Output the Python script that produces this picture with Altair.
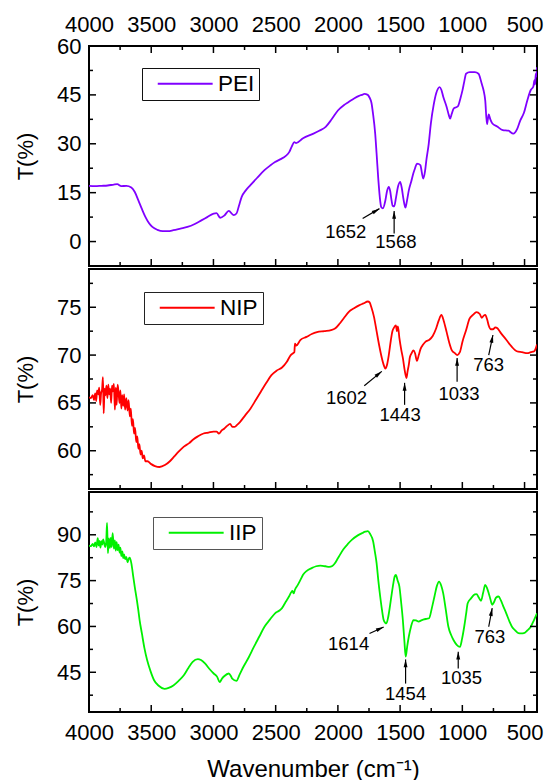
import math
import altair as alt
import pandas as pd

FONT = "Liberation Sans"
W, H = 448, 220
X_DOMAIN = [400, 4000]

# ---------------- data ----------------
PEI_WN = [4000, 3950, 3900, 3850, 3800, 3773, 3740, 3700, 3660, 3632, 3604, 3575, 3547, 3520, 3491, 3450,
          3407, 3365, 3322, 3265, 3209, 3150, 3097, 3050, 2998, 2975, 2946, 2912, 2877, 2838, 2815, 2795,
          2773, 2740, 2703, 2650, 2590, 2545, 2505, 2460, 2421, 2390, 2370, 2350, 2336, 2280, 2196, 2150,
          2098, 2050, 2000, 1950, 1914, 1870, 1830, 1800, 1788, 1760, 1746, 1730, 1718, 1700, 1689, 1675,
          1660, 1652, 1638, 1619, 1605, 1591, 1580, 1571, 1560, 1547, 1533, 1519, 1500, 1487, 1475, 1458,
          1445, 1430, 1410, 1393, 1380, 1365, 1350, 1337, 1314, 1300, 1289, 1270, 1253, 1230, 1210, 1182,
          1168, 1154, 1126, 1110, 1098, 1085, 1070, 1050, 1034, 1015, 999, 985, 970, 940, 900, 870, 844,
          830, 816, 802, 795, 788, 775, 760, 720, 675, 630, 590, 560, 534, 505, 478, 450, 430, 420, 415,
          410, 405, 400]
PEI_T = [17.1, 17.0, 17.1, 17.2, 17.5, 17.6, 17.0, 17.1, 16.6, 15.2, 12.7, 10.0, 7.6, 5.8, 4.5, 3.6,
         3.2, 3.2, 3.5, 4.0, 4.5, 5.4, 6.5, 7.5, 8.6, 8.7, 7.3, 8.0, 9.4, 8.1, 8.6, 11.0,
         13.7, 15.7, 17.3, 19.5, 21.9, 23.3, 24.4, 25.3, 26.2, 27.5, 29.2, 30.5, 30.2, 31.7, 33.1, 34.0,
         35.2, 37.5, 40.2, 41.9, 42.8, 43.9, 44.7, 45.1, 45.3, 45.0, 44.2, 42.5, 39.3, 33.0, 27.0, 19.0,
         12.5, 10.6, 10.2, 12.5, 15.5, 16.8, 15.5, 13.2, 11.0, 10.8, 13.5, 16.5, 18.3, 16.5, 13.5, 10.4,
         12.5, 15.7, 18.5, 21.0, 22.5, 23.9, 23.8, 23.4, 19.3, 21.5, 25.0, 30.0, 36.2, 42.0, 45.5, 47.4,
         46.5, 44.5, 41.3, 39.0, 37.7, 39.2, 40.8, 41.2, 41.6, 44.0, 46.4, 49.0, 51.5, 52.0, 52.0, 51.5, 48.4,
         46.5, 43.3, 36.0, 37.5, 39.0, 37.5, 36.3, 35.3, 34.2, 34.0, 33.1, 34.5, 37.2, 39.5, 43.3, 46.5, 47.5, 49.5, 48.2,
         51.5, 50.5, 53.5]

NIP_WN = [4000, 3985, 3970, 3960, 3950, 3942, 3935, 3925, 3918, 3910, 3903, 3895, 3888, 3882, 3875, 3868,
          3860, 3852, 3845, 3838, 3830, 3822, 3815, 3808, 3800, 3792, 3785, 3778, 3770, 3762, 3755, 3748,
          3740, 3733, 3725, 3718, 3710, 3700, 3690, 3682, 3672, 3664, 3655, 3647, 3638, 3630, 3620, 3612,
          3603, 3595, 3586, 3577, 3568, 3558, 3547, 3530, 3500, 3470, 3433, 3390, 3350, 3315, 3280, 3240, 3195,
          3160, 3125, 3080, 3040, 3000, 2975, 2956, 2935, 2914, 2890, 2866, 2848, 2829, 2810, 2787, 2745,
          2703, 2660, 2618, 2575, 2534, 2490, 2449, 2410, 2379, 2360, 2350, 2345, 2335, 2300, 2252, 2210,
          2168, 2110, 2055, 2020, 1985, 1950, 1914, 1870, 1830, 1795, 1759, 1745, 1731, 1710, 1689, 1668,
          1647, 1630, 1619, 1605, 1591, 1575, 1562, 1548, 1534, 1525, 1518, 1506, 1490, 1478, 1463, 1449,
          1440, 1430, 1421, 1407, 1393, 1380, 1365, 1350, 1337, 1315, 1295, 1265, 1238, 1210, 1190, 1168,
          1150, 1126, 1105, 1084, 1060, 1041, 1020, 999, 970, 942, 915, 886, 860, 844, 830, 816, 800, 788,
          770, 754, 735, 718, 690, 647, 605, 563, 520, 478, 450, 422, 410, 400]
NIP_T = [65.6, 65.5, 65.8, 65.3, 66.0, 65.2, 66.3, 65.9, 66.6, 64.8, 66.0, 66.4, 67.7, 63.9, 66.5, 65.8,
         66.8, 65.5, 66.9, 65.9, 66.5, 65.0, 66.8, 66.2, 67.0, 64.3, 66.6, 64.8, 66.9, 66.0, 65.0, 66.3,
         64.4, 65.8, 64.7, 65.9, 64.3, 65.5, 64.2, 65.3, 63.6, 64.4, 62.6, 63.3, 61.8, 62.4, 60.9, 61.5,
         60.2, 60.7, 59.6, 60.0, 59.2, 59.5, 58.9, 58.9, 58.6, 58.4, 58.3, 58.5, 58.9, 59.4, 59.9, 60.4, 60.8,
         61.2, 61.5, 61.8, 61.9, 62.0, 62.0, 61.8, 62.1, 62.3, 62.6, 62.8, 62.5, 62.5, 62.7, 63.0, 63.7,
         64.4, 65.3, 66.2, 67.1, 67.9, 68.4, 68.7, 69.3, 70.0, 70.2, 70.3, 71.2, 71.0, 71.6, 71.9, 72.2,
         72.4, 72.5, 72.6, 72.8, 73.3, 73.9, 74.5, 74.9, 75.2, 75.4, 75.6, 75.5, 75.0, 74.0, 72.5, 71.0,
         69.7, 68.9, 68.6, 69.0, 70.0, 71.5, 72.5, 72.9, 73.1, 72.5, 73.0, 71.8, 70.5, 69.7, 68.4, 67.6,
         68.3, 69.0, 69.8, 70.2, 70.5, 70.2, 69.4, 70.0, 70.6, 71.1, 71.4, 71.6, 72.0, 72.8, 73.6, 74.2,
         73.6, 72.4, 71.3, 70.5, 70.2, 70.0, 70.3, 71.4, 72.6, 73.8, 74.2, 74.5, 74.3, 73.9, 74.1, 74.2, 73.7, 73.1,
         72.7, 72.7, 72.9, 72.8, 72.3, 71.6, 70.9, 70.4, 70.3, 70.2, 70.3, 70.4, 70.7, 71.1]

IIP_WN = [4000, 3985, 3970, 3960, 3950, 3940, 3930, 3922, 3915, 3908, 3900, 3893, 3886, 3870, 3862, 3855,
          3848, 3840, 3832, 3825, 3818, 3810, 3800, 3792, 3785, 3778, 3770, 3762, 3755, 3748, 3740, 3732,
          3725, 3718, 3710, 3700, 3690, 3680, 3673, 3660, 3645, 3633, 3615, 3604, 3593, 3575, 3555, 3533,
          3505, 3477, 3440, 3393, 3360, 3322, 3280, 3238, 3200, 3167, 3125, 3100, 3068, 3030, 2998, 2970,
          2950, 2930, 2914, 2877, 2860, 2849, 2815, 2790, 2759, 2715, 2675, 2630, 2590, 2545, 2505, 2470,
          2449, 2420, 2393, 2375, 2365, 2355, 2345, 2322, 2300, 2280, 2250, 2210, 2175, 2140, 2100, 2069,
          2045, 2027, 2000, 1957, 1920, 1886, 1840, 1802, 1780, 1759, 1740, 1717, 1703, 1689, 1675, 1660,
          1646, 1632, 1620, 1610, 1596, 1582, 1568, 1554, 1544, 1534, 1520, 1506, 1492, 1478, 1466, 1455,
          1443, 1430, 1412, 1393, 1372, 1351, 1330, 1309, 1288, 1267, 1245, 1224, 1205, 1187, 1170, 1154,
          1133, 1112, 1090, 1070, 1045, 1019, 1002, 985, 970, 957, 930, 900, 886, 868, 850, 833, 816, 800,
          788, 775, 760, 745, 730, 709, 690, 670, 647, 620, 600, 577, 550, 525, 506, 480, 450, 425, 400]
IIP_T = [86.5, 86.3, 87.0, 86.2, 87.5, 86.0, 88.9, 86.5, 88.0, 85.8, 87.9, 86.8, 88.5, 86.0, 87.5, 93.9,
         84.0, 88.8, 85.7, 89.0, 86.0, 90.5, 85.5, 88.2, 84.8, 87.6, 85.0, 86.8, 84.2, 85.8, 83.0, 84.6,
         82.4, 83.6, 82.0, 82.8, 81.0, 82.2, 82.5, 80.7, 76.5, 73.1, 68.5, 65.4, 62.0, 57.7, 53.0, 49.0,
         45.3, 42.4, 40.6, 39.6, 39.9, 40.7, 42.2, 44.0, 46.5, 48.4, 49.3, 49.0, 47.9, 46.0, 44.6, 43.5,
         41.8, 43.0, 43.7, 44.6, 43.8, 42.9, 42.2, 44.2, 46.8, 50.0, 53.3, 56.8, 59.9, 62.3, 64.3, 65.2,
         66.0, 68.0, 69.8, 71.2, 71.6, 70.8, 72.0, 73.6, 75.3, 76.9, 78.2, 79.1, 79.7, 79.9, 79.7, 79.5,
         79.8, 80.5, 82.3, 85.2, 87.0, 88.4, 89.8, 90.6, 91.0, 91.2, 90.2, 87.9, 84.5, 80.7, 75.0, 69.8,
         65.5, 62.1, 61.2, 61.0, 63.0, 66.5, 70.5, 74.2, 76.3, 76.9, 75.0, 73.1, 68.0, 62.1, 55.5, 50.1,
         53.5, 56.7, 60.0, 62.1, 62.0, 61.6, 62.0, 62.3, 62.5, 62.7, 66.0, 69.8, 73.2, 74.7, 73.4, 70.9,
         65.5, 59.9, 57.2, 55.5, 54.0, 53.3, 56.0, 59.9, 64.0, 67.6, 69.2, 70.5, 70.6, 69.5, 68.4, 71.0, 73.6, 72.4,
         70.9, 69.0, 67.1, 68.0, 69.4, 69.8, 68.5, 66.5, 64.3, 61.5, 59.8, 58.8, 57.8, 57.7, 57.8, 58.6, 59.9, 62.0, 64.3]

# tick values
X_MAJOR = [4000, 3500, 3000, 2500, 2000, 1500, 1000, 500]
X_MINOR = [3750, 3250, 2750, 2250, 1750, 1250, 750]
PEI_Y_MAJOR = [0, 15, 30, 45, 60]
PEI_Y_MINOR = [7.5, 22.5, 37.5, 52.5]
NIP_Y_MAJOR = [60, 65, 70, 75]
NIP_Y_MINOR = [57.5, 62.5, 67.5, 72.5, 77.5]
IIP_Y_MAJOR = [45, 60, 75, 90]
IIP_Y_MINOR = [37.5, 52.5, 67.5, 82.5, 97.5]

# annotations: label, label position, arrow start, arrow tip
PEI_LAB = ["1652", "1568"]
PEI_LAB_X = [1937, 1534]
PEI_LAB_Y = [2.9, -0.1]
PEI_A_X1 = [1801, 1548]
PEI_A_Y1 = [7.1, 2.5]
PEI_A_X2 = [1666, 1548]
PEI_A_Y2 = [10.1, 9.4]

NIP_LAB = ["1602", "1443", "1033", "763"]
NIP_LAB_X = [1931, 1500, 1027, 788]
NIP_LAB_Y = [65.5, 63.7, 65.9, 69.0]
NIP_A_X1 = [1788, 1464, 1042, 788]
NIP_A_Y1 = [66.8, 64.8, 67.2, 70.0]
NIP_A_X2 = [1647, 1464, 1042, 754]
NIP_A_Y2 = [68.3, 67.1, 69.7, 72.1]

IIP_LAB = ["1614", "1454", "1035", "763"]
IIP_LAB_X = [1914, 1456, 1007, 779]
IIP_LAB_Y = [54.4, 37.8, 43.2, 56.6]
IIP_A_X1 = [1746, 1456, 1033, 788]
IIP_A_Y1 = [57.7, 41.3, 46.2, 59.9]
IIP_A_X2 = [1632, 1456, 1033, 760]
IIP_A_Y2 = [59.8, 49.2, 51.7, 66.0]

ARROW_SHAPE = "M0,0 L0.65,2.6 L-0.65,2.6 Z"
LEGEND_LINE = "M0,0 L18.3,0"   # drawn from the symbol centre to the right (scaled by sqrt(size)/2)


def panel(name, color, wn, t, ydom, ymaj, ymin, lab, lx, ly, ax1, ay1, ax2, ay2, xaxis,
          legend_stroke, legend_x, legend_y):
    xs = alt.Scale(domain=X_DOMAIN, reverse=True, nice=False, zero=False)
    ys = alt.Scale(domain=ydom, nice=False, zero=False)
    df = pd.DataFrame({"wn": wn, "T": t, "sample": name})

    yaxis = alt.Axis(values=ymaj, format="d", ticks=False, domain=False, grid=False,
                     labelFont=FONT, labelFontSize=22, labelColor="black", labelPadding=8,
                     title="T(%)", titleFont=FONT, titleFontSize=22, titleFontWeight="normal",
                     titleColor="black", titlePadding=8, minExtent=44, maxExtent=44)

    def X(field):
        return alt.X(field, scale=xs, axis=xaxis, title=None)

    def Y(field):
        return alt.Y(field, scale=ys, axis=yaxis)

    line = alt.Chart(df).mark_line(strokeWidth=1.8, interpolate="monotone", clip=True).encode(
        x=X("wn:Q"),
        y=Y("T:Q"),
        order=alt.Order("wn:Q", sort="descending"),
        color=alt.Color("sample:N", scale=alt.Scale(domain=[name], range=[color]),
                        legend=alt.Legend(orient="none", legendX=legend_x, legendY=legend_y, title=None,
                                          strokeColor=legend_stroke, fillColor="white",
                                          padding=4.5, cornerRadius=0, symbolType=LEGEND_LINE,
                                          symbolSize=36, symbolStrokeWidth=2.2,
                                          labelFont=FONT, labelFontSize=22.5, labelColor="black",
                                          labelOffset=49)),
    )

    def xt(vals, ln, top):
        d = pd.DataFrame({"wn": vals})
        if top:
            enc = dict(y=alt.value(0), y2=alt.value(ln))
        else:
            enc = dict(y=alt.value(H), y2=alt.value(H - ln))
        return alt.Chart(d).mark_rule(color="black", strokeWidth=1.5).encode(x=X("wn:Q"), **enc)

    def yt(vals, ln, right):
        d = pd.DataFrame({"T": vals})
        if right:
            enc = dict(x=alt.value(W), x2=alt.value(W - ln))
        else:
            enc = dict(x=alt.value(0), x2=alt.value(ln))
        return alt.Chart(d).mark_rule(color="black", strokeWidth=1.5).encode(y=Y("T:Q"), **enc)

    layers = [line, xt(X_MAJOR, 7, False), xt(X_MINOR, 4, False),
              yt(ymaj, 7, False), yt(ymin, 4, False), yt(ymaj, 7, True), yt(ymin, 4, True)]
    if name == "PEI":
        layers += [xt(X_MAJOR, 7, True), xt(X_MINOR, 4, True)]

    # arrows
    px_per_wn = W / (X_DOMAIN[1] - X_DOMAIN[0])
    px_per_t = H / (ydom[1] - ydom[0])
    ang = [math.degrees(math.atan2((a - b) * px_per_wn, (d - c) * px_per_t))
           for a, b, c, d in zip(ax1, ax2, ay1, ay2)]
    adf = pd.DataFrame({"wn": ax1, "T": ay1, "wn2": ax2, "T2": ay2, "ang": ang})
    shaft = alt.Chart(adf).mark_rule(color="black", strokeWidth=1.2).encode(
        x=X("wn:Q"), x2="wn2:Q", y=Y("T:Q"), y2="T2:Q")
    head = alt.Chart(adf).mark_point(shape=ARROW_SHAPE, filled=True, size=36, color="black",
                                     opacity=1, strokeWidth=0).encode(
        x=X("wn2:Q"), y=Y("T2:Q"), angle=alt.Angle("ang:Q", scale=None))
    tdf = pd.DataFrame({"wn": lx, "T": ly, "label": lab})
    text = alt.Chart(tdf).mark_text(font=FONT, fontSize=18.5, color="black",
                                    align="center", baseline="middle").encode(
        x=X("wn:Q"), y=Y("T:Q"), text="label:N")
    layers += [shaft, head, text]
    return alt.layer(*layers).properties(width=W, height=H)


top_axis = alt.Axis(orient="top", values=X_MAJOR, format="d", ticks=False, domain=False, grid=False,
                    labelFont=FONT, labelFontSize=22, labelColor="black", labelPadding=10,
                    labelFlush=False, labelOverlap=False, title=None)
bottom_axis = alt.Axis(orient="bottom", values=X_MAJOR, format="d", ticks=False, domain=False, grid=False,
                       labelFont=FONT, labelFontSize=22, labelColor="black", labelPadding=10,
                       labelFlush=False, labelOverlap=False,
                       title="Wavenumber (cm\u207b\u00b9)", titleFont=FONT, titleFontSize=24,
                       titleFontWeight="normal", titleColor="black", titlePadding=14)

p1 = panel("PEI", "#8000ff", PEI_WN, PEI_T, [-7.5, 60], PEI_Y_MAJOR, PEI_Y_MINOR,
           PEI_LAB, PEI_LAB_X, PEI_LAB_Y, PEI_A_X1, PEI_A_Y1, PEI_A_X2, PEI_A_Y2, top_axis,
           "#111", 53, 22)
p2 = panel("NIP", "#ff0000", NIP_WN, NIP_T, [56, 79], NIP_Y_MAJOR, NIP_Y_MINOR,
           NIP_LAB, NIP_LAB_X, NIP_LAB_Y, NIP_A_X1, NIP_A_Y1, NIP_A_X2, NIP_A_Y2, None,
           "#222", 55, 23)
p3 = panel("IIP", "#00f000", IIP_WN, IIP_T, [32, 104], IIP_Y_MAJOR, IIP_Y_MINOR,
           IIP_LAB, IIP_LAB_X, IIP_LAB_Y, IIP_A_X1, IIP_A_Y1, IIP_A_X2, IIP_A_Y2, bottom_axis,
           "#555", 64, 25)

chart = alt.vconcat(p1, p2, p3, spacing=0).resolve_scale(
    x="independent", y="independent", color="independent"
).resolve_legend(color="independent").properties(
    padding={"left": 13, "top": 12, "right": 0, "bottom": 0},
    background="white",
).configure_view(stroke="black", strokeWidth=2)

chart.save("out.html", embed_options={"renderer": "svg", "actions": False})
